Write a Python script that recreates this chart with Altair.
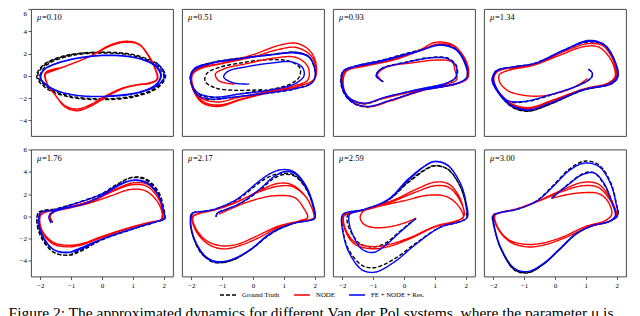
import altair as alt
import pandas as pd

MU_VALUES = ["0.10", "0.51", "0.93", "1.34", "1.76", "2.17", "2.59", "3.00"]
SERIES = ["Ground Truth", "NODE", "FE + NODE + Res."]
X_TICKS = [-2, -1, 0, 1, 2]
Y_TICKS = [-4, -2, 0, 2, 4, 6]
CAPTION = "Figure 2: The approximated dynamics for different Van der Pol systems, where the parameter \u03bc is"

# ---- panel 1 : mu = 0.10 ----
P1_TRUTH = [(-2.02, 0.0), (-1.78, 1.0), (-1.05, 1.78), (0.0, 2.05), (1.0, 1.82), (1.72, 1.05), (2.0, 0.0),
            (1.75, -1.05), (1.02, -1.8), (0.0, -2.06), (-1.02, -1.82), (-1.76, -1.05), (-2.08, 0.02),
            (-1.82, 1.05), (-1.08, 1.85), (0.05, 2.12), (1.05, 1.88), (1.78, 1.08), (2.06, 0.0),
            (1.8, -1.08), (1.05, -1.88), (-0.05, -2.14), (-1.06, -1.9), (-1.82, -1.1), (-2.12, 0.0),
            (-1.86, 1.06), (-1.1, 1.88), (0.05, 2.15)]
P1_NODE = [(-1.84, 0.21), (-1.24, 0.8), (-0.38, 1.77), (0.27, 2.77), (0.76, 3.1), (1.19, 2.86), (1.51, 1.83),
           (1.73, 0.65), (1.8, -0.3), (1.55, -0.68), (1.2, -0.8), (0.7, -1.12), (0.16, -1.86), (-0.38, -2.74),
           (-0.81, -3.13), (-1.19, -2.8), (-1.51, -1.75), (-1.78, -0.7), (-1.84, 0.25), (-1.2, 0.85),
           (-0.35, 1.8), (0.3, 2.72), (0.78, 3.02), (1.2, 2.8), (1.5, 1.8), (1.72, 0.6), (1.78, -0.3),
           (1.52, -0.65), (1.18, -0.78), (0.68, -1.08), (0.12, -1.8), (-0.4, -2.62), (-0.82, -2.98),
           (-1.2, -2.68), (-1.52, -1.7), (-1.78, -0.66), (-1.82, 0.2), (-1.22, 0.82), (-0.4, 1.72)]
P1_FE = [(1.75, 1.2), (1.98, 0.5), (2.0, -0.3), (1.72, -0.98), (1.05, -1.6), (0.05, -1.86), (-0.95, -1.7),
         (-1.68, -1.08), (-2.0, -0.2), (-1.9, 0.52), (-1.4, 1.2), (-0.5, 1.72), (0.4, 1.85), (1.22, 1.55),
         (1.75, 0.9), (1.92, 0.05), (1.75, -0.82), (1.1, -1.55), (0.1, -1.84), (-0.92, -1.7), (-1.66, -1.06),
         (-1.98, -0.2), (-1.88, 0.52), (-1.38, 1.18), (-0.48, 1.7), (0.42, 1.82), (1.22, 1.52), (1.73, 0.86),
         (1.9, 0.02), (1.73, -0.82), (1.08, -1.53), (0.1, -1.82)]

# ---- panel 2 : mu = 0.51 ----
P2_TRUTH = [(0.3, -1.25), (-0.5, -1.3), (-1.2, -1.1), (-1.55, -0.5), (-1.5, 0.2), (-1.1, 0.75), (-0.3, 1.2),
            (0.5, 1.45), (1.2, 1.3), (1.52, 0.7), (1.5, -0.1), (1.2, -0.75), (0.5, -1.25), (-0.4, -1.6),
            (-1.2, -1.95), (-1.72, -1.7), (-1.97, -0.8), (-2.0, 0.1), (-1.85, 0.68), (-1.3, 1.18), (-0.4, 1.58),
            (0.6, 1.9), (1.4, 2.1), (1.8, 1.75), (1.97, 0.9), (2.02, 0.0), (1.88, -0.66), (1.32, -1.2),
            (0.4, -1.6), (-0.6, -1.92), (-1.4, -2.12), (-1.8, -1.76), (-1.98, -0.9), (-2.03, 0.0), (-1.88, 0.66),
            (-1.32, 1.2), (-0.4, 1.6), (0.6, 1.92), (1.4, 2.12), (1.8, 1.76), (1.98, 0.9), (2.03, 0.0),
            (1.88, -0.66)]
P2_NODE = [(-0.6, -0.75), (-1.1, -0.45), (-1.22, 0.15), (-0.95, 0.62), (-0.2, 1.1), (0.7, 1.6), (1.4, 1.65),
           (1.78, 0.8), (1.78, -0.35), (1.35, -0.88), (0.4, -1.45), (-0.5, -1.95), (-1.15, -2.35), (-1.7, -1.95),
           (-1.95, -0.85), (-1.96, 0.1), (-1.72, 0.62), (-1.0, 1.1), (0.0, 1.7), (0.8, 2.35), (1.4, 2.55),
           (1.88, 1.8), (2.04, 0.6), (1.96, -0.35), (1.5, -0.9), (0.5, -1.5), (-0.4, -2.1), (-1.1, -2.62),
           (-1.62, -2.3), (-1.96, -1.0), (-2.0, 0.0), (-1.8, 0.65), (-1.0, 1.15), (0.0, 1.9), (0.9, 2.78),
           (1.45, 2.9), (1.9, 2.05), (2.06, 0.6), (1.97, -0.35), (1.5, -0.92), (0.5, -1.52), (-0.4, -2.15),
           (-1.12, -2.75), (-1.65, -2.4), (-1.97, -1.05), (-2.0, 0.0)]
P2_FE = [(-0.12, -0.74), (-0.65, -0.62), (-0.95, -0.1), (-0.8, 0.42), (-0.2, 0.82), (0.6, 1.15), (1.25, 1.25),
         (1.6, 0.75), (1.65, 0.0), (1.35, -0.72), (0.6, -1.25), (-0.4, -1.62), (-1.3, -1.9), (-1.85, -1.4),
         (-2.02, -0.3), (-1.92, 0.5), (-1.4, 1.08), (-0.5, 1.5), (0.5, 1.85), (1.35, 2.05), (1.8, 1.7),
         (1.98, 0.85), (2.02, -0.05), (1.88, -0.7), (1.35, -1.15), (0.45, -1.55), (-0.55, -1.88), (-1.38, -2.08),
         (-1.8, -1.72), (-1.98, -0.85), (-2.02, 0.05), (-1.88, 0.7), (-1.35, 1.15), (-0.45, 1.55), (0.55, 1.88),
         (1.38, 2.08), (1.8, 1.72), (1.98, 0.85), (2.02, -0.05)]

# ---- panel 3 : mu = 0.93 ----
P3_TRUTH = [(-0.67, -0.53), (-0.9, 0.0), (-0.76, 0.6), (0.1, 1.25), (0.9, 1.66), (1.42, 1.58), (1.7, 0.9),
            (1.7, -0.1), (1.44, -0.6), (0.4, -1.28), (-0.6, -1.95), (-1.3, -2.5), (-1.82, -1.92), (-2.03, -0.5),
            (-1.96, 0.45), (-1.6, 0.86), (-0.7, 1.42), (0.4, 2.25), (1.2, 2.8), (1.72, 2.32), (2.01, 0.9),
            (2.05, -0.1), (1.8, -0.62), (0.7, -1.22), (-0.4, -2.18), (-1.22, -2.8), (-1.76, -2.22), (-2.03, -0.9),
            (-1.99, 0.35), (-1.76, 0.7), (-0.8, 1.27), (0.4, 2.18), (1.22, 2.82), (1.73, 2.32), (2.03, 0.9),
            (2.05, -0.1)]
P3_NODE = [(-0.75, -0.35), (-0.86, 0.1), (-0.6, 0.75), (0.3, 1.18), (1.1, 1.42), (1.55, 1.25), (1.65, 0.5),
           (1.7, -0.35), (1.3, -0.8), (0.3, -1.4), (-0.7, -2.05), (-1.35, -2.5), (-1.85, -1.8), (-1.97, -0.4),
           (-1.85, 0.45), (-1.3, 0.85), (-0.3, 1.45), (0.6, 2.35), (1.1, 2.85), (1.65, 2.6), (2.02, 1.1),
           (2.05, -0.2), (1.7, -0.7), (0.6, -1.3), (-0.4, -2.2), (-1.15, -2.78), (-1.7, -2.3), (-1.98, -0.9),
           (-1.95, 0.3), (-1.55, 0.75), (-0.5, 1.35), (0.5, 2.3), (1.0, 3.0), (1.6, 2.75), (2.04, 1.15),
           (2.06, -0.2), (1.7, -0.72), (0.6, -1.32), (-0.4, -2.25)]
P3_FE = [(-0.67, -0.53), (-0.9, 0.0), (-0.75, 0.6), (0.1, 1.22), (0.9, 1.62), (1.4, 1.55), (1.68, 0.9),
         (1.68, -0.1), (1.42, -0.6), (0.4, -1.25), (-0.6, -1.9), (-1.3, -2.45), (-1.8, -1.9), (-2.02, -0.5),
         (-1.95, 0.45), (-1.6, 0.85), (-0.7, 1.4), (0.4, 2.2), (1.2, 2.75), (1.7, 2.3), (2.0, 0.9), (2.04, -0.1),
         (1.78, -0.6), (0.7, -1.2), (-0.4, -2.15), (-1.22, -2.75), (-1.75, -2.2), (-2.02, -0.9), (-1.98, 0.35),
         (-1.75, 0.7), (-0.8, 1.25), (0.4, 2.15), (1.22, 2.78), (1.72, 2.3), (2.02, 0.9), (2.04, -0.1),
         (1.78, -0.62), (0.7, -1.22)]

# ---- panel 4 : mu = 1.34 ----
P4_TRUTH = [(1.08, 0.59), (1.2, 0.3), (1.2, -0.05), (1.08, -0.4), (0.68, -0.95), (-0.16, -1.75), (-1.0, -2.35),
            (-1.57, -2.25), (-1.9, -1.2), (-2.0, -0.2), (-1.88, 0.45), (-1.2, 0.85), (-0.6, 1.15), (0.3, 2.3),
            (1.0, 3.02), (1.55, 2.82), (1.92, 1.4), (2.02, 0.0), (1.82, -0.65), (0.9, -1.28), (-0.12, -2.5),
            (-0.85, -3.15), (-1.4, -2.75), (-1.85, -1.45), (-2.03, -0.3), (-1.9, 0.45), (-1.3, 0.82), (-0.68, 1.1),
            (0.35, 2.38), (1.1, 3.15), (1.62, 2.72), (1.95, 1.25), (2.04, -0.05), (1.85, -0.68), (0.9, -1.3),
            (-0.16, -2.55), (-0.9, -3.18), (-1.42, -2.75), (-1.85, -1.45), (-2.04, -0.35)]
P4_NODE = [(1.05, -0.24), (0.7, -0.9), (0.2, -1.45), (-0.4, -1.8), (-1.0, -1.75), (-1.55, -1.3), (-1.8, -0.5),
           (-1.8, 0.1), (-1.5, 0.5), (-0.7, 0.95), (0.2, 1.9), (0.9, 2.6), (1.4, 2.6), (1.8, 1.5), (1.95, 0.0),
           (1.75, -0.6), (0.9, -1.2), (-0.1, -2.2), (-0.85, -2.85), (-1.4, -2.5), (-1.85, -1.3), (-1.98, -0.2),
           (-1.85, 0.4), (-1.2, 0.8), (-0.6, 1.1), (0.3, 2.2), (1.05, 2.88), (1.55, 2.7), (1.9, 1.3),
           (1.98, -0.05), (1.8, -0.62), (0.9, -1.22), (-0.12, -2.3), (-0.85, -2.95), (-1.4, -2.6),
           (-1.85, -1.35), (-2.0, -0.25)]
P4_FE = [(1.08, 0.59), (1.2, 0.3), (1.2, -0.05), (1.08, -0.4), (0.68, -0.95), (-0.16, -1.7), (-1.0, -2.3),
         (-1.55, -2.2), (-1.88, -1.2), (-2.0, -0.2), (-1.88, 0.45), (-1.2, 0.85), (-0.6, 1.15), (0.3, 2.3),
         (1.0, 3.05), (1.55, 2.85), (1.92, 1.4), (2.02, 0.0), (1.82, -0.65), (0.9, -1.25), (-0.1, -2.4),
         (-0.85, -3.05), (-1.4, -2.65), (-1.84, -1.45), (-2.03, -0.3), (-1.9, 0.45), (-1.3, 0.82), (-0.68, 1.1),
         (0.35, 2.4), (1.1, 3.18), (1.62, 2.75), (1.95, 1.25), (2.04, -0.05), (1.85, -0.68), (0.9, -1.27),
         (-0.16, -2.45), (-0.9, -3.08), (-1.42, -2.65), (-1.85, -1.45), (-2.04, -0.35), (-1.92, 0.45)]

# ---- panel 5 : mu = 1.76 ----
P5_TRUTH = [(-1.6, -0.55), (-1.7, -0.1), (-1.65, 0.35), (-1.3, 0.7), (-0.6, 1.15), (0.0, 1.9), (0.5, 2.85),
            (0.95, 3.45), (1.4, 3.3), (1.8, 2.2), (2.0, 0.7), (2.02, -0.2), (1.8, -0.47), (1.05, -1.1),
            (0.0, -2.1), (-0.6, -3.0), (-1.05, -3.48), (-1.55, -3.25), (-1.92, -2.0), (-2.1, -0.6), (-2.06, 0.3),
            (-1.6, 0.6), (-1.14, 0.94), (-0.05, 1.98), (0.5, 2.9), (1.0, 3.52), (1.45, 3.32), (1.84, 2.15),
            (2.02, 0.4), (2.03, -0.24), (1.78, -0.47), (1.03, -1.12), (-0.05, -2.15), (-0.81, -3.19),
            (-1.14, -3.5), (-1.57, -3.22), (-1.95, -2.0), (-2.11, -0.55), (-2.05, 0.35), (-1.6, 0.62)]
P5_NODE = [(-1.6, -0.5), (-1.68, 0.0), (-1.55, 0.4), (-1.1, 0.72), (-0.4, 1.2), (0.3, 1.85), (0.9, 2.4),
           (1.4, 2.3), (1.8, 1.3), (1.95, 0.2), (1.9, -0.3), (1.6, -0.5), (0.9, -1.0), (0.0, -1.8), (-0.6, -2.4),
           (-1.1, -2.6), (-1.6, -2.3), (-1.95, -1.2), (-2.0, 0.0), (-1.85, 0.35), (-1.1, 0.8), (-0.3, 1.4),
           (0.4, 2.3), (0.95, 2.82), (1.45, 2.7), (1.85, 1.5), (1.97, 0.2), (1.92, -0.32), (1.6, -0.52),
           (0.9, -1.05), (-0.05, -1.95), (-0.65, -2.55), (-1.1, -2.74), (-1.6, -2.45), (-1.96, -1.3), (-2.02, 0.0),
           (-1.88, 0.35), (-1.1, 0.82), (-0.25, 1.5), (0.45, 2.45), (1.0, 3.0), (1.5, 2.85), (1.88, 1.6),
           (1.98, 0.2)]
P5_FE = [(-1.65, -0.6), (-1.72, -0.1), (-1.65, 0.3), (-1.3, 0.65), (-0.6, 1.1), (0.0, 1.85), (0.5, 2.7),
         (0.95, 3.2), (1.4, 3.05), (1.8, 2.0), (1.98, 0.6), (2.0, -0.2), (1.78, -0.45), (1.05, -1.05), (0.0, -2.05),
         (-0.6, -2.85), (-1.05, -3.22), (-1.55, -3.0), (-1.9, -1.85), (-2.05, -0.55), (-2.0, 0.3), (-1.6, 0.55),
         (-1.14, 0.9), (-0.05, 1.95), (0.5, 2.78), (1.0, 3.25), (1.45, 3.05), (1.82, 1.95), (2.0, 0.4),
         (2.02, -0.22), (1.78, -0.45), (1.03, -1.08), (-0.05, -2.1), (-0.8, -2.95), (-1.12, -3.26),
         (-1.55, -3.02), (-1.92, -1.85), (-2.06, -0.5), (-2.0, 0.32)]

# ---- panel 6 : mu = 2.17 ----
P6_TRUTH = [(-1.2, -0.05), (-1.15, 0.3), (-0.85, 0.62), (-0.4, 1.15), (0.2, 2.3), (0.65, 3.35), (1.0, 3.75),
            (1.35, 3.6), (1.72, 2.45), (1.95, 0.85), (2.0, -0.15), (1.8, -0.38), (1.35, -0.6), (0.65, -1.45),
            (-0.1, -3.05), (-0.7, -3.98), (-1.2, -4.12), (-1.62, -3.5), (-1.92, -2.0), (-2.03, -0.5),
            (-1.98, 0.25), (-1.6, 0.45), (-1.27, 0.62), (-0.53, 1.45), (0.2, 3.0), (0.6, 3.65), (0.9, 3.85),
            (1.35, 3.7), (1.75, 2.4), (1.98, 0.6), (2.0, -0.18), (1.78, -0.38), (1.35, -0.6), (0.62, -1.45),
            (-0.12, -3.08), (-0.74, -4.0), (-1.25, -4.15), (-1.6, -3.52), (-1.92, -2.0), (-2.03, -0.53),
            (-1.97, 0.27)]
P6_NODE = [(-1.11, 0.2), (-0.7, 0.7), (-0.22, 1.24), (0.62, 1.83), (1.35, 1.68), (1.66, 0.65), (1.77, -0.1),
           (1.5, -0.4), (0.8, -0.9), (0.1, -1.8), (-0.5, -2.5), (-1.0, -2.65), (-1.5, -2.2), (-1.85, -1.1),
           (-1.95, -0.1), (-1.8, 0.2), (-1.2, 0.6), (-0.5, 1.3), (0.2, 2.3), (0.8, 2.95), (1.25, 2.85),
           (1.7, 1.8), (1.95, 0.4), (1.97, -0.15), (1.7, -0.38), (0.9, -0.9), (0.2, -1.9), (-0.4, -2.6),
           (-0.95, -2.92), (-1.45, -2.5), (-1.85, -1.3), (-1.97, -0.1), (-1.82, 0.22), (-1.2, 0.62), (-0.5, 1.35),
           (0.2, 2.2), (0.85, 2.72), (1.3, 2.65), (1.75, 1.6), (1.97, 0.3)]
P6_FE = [(-1.2, -0.05), (-1.15, 0.3), (-0.85, 0.65), (-0.4, 1.2), (0.2, 2.4), (0.65, 3.5), (1.0, 4.0),
         (1.35, 3.85), (1.72, 2.6), (1.95, 0.9), (2.0, -0.15), (1.8, -0.38), (1.35, -0.6), (0.65, -1.4),
         (-0.1, -3.0), (-0.7, -3.9), (-1.2, -4.05), (-1.6, -3.45), (-1.9, -2.0), (-2.02, -0.5), (-1.98, 0.25),
         (-1.6, 0.45), (-1.27, 0.62), (-0.53, 1.53), (0.2, 3.16), (0.6, 3.9), (0.93, 4.19), (1.3, 4.04),
         (1.66, 3.0), (1.93, 1.24), (2.0, -0.15), (1.78, -0.38), (1.35, -0.6), (0.62, -1.42), (-0.12, -3.04),
         (-0.74, -3.92), (-1.25, -4.08), (-1.58, -3.48), (-1.9, -2.0), (-2.02, -0.53), (-1.97, 0.27)]

# ---- panel 7 : mu = 2.59 ----
P7_TRUTH = [(0.39, -0.18), (0.15, -0.7), (-0.2, -1.5), (-0.6, -2.4), (-1.0, -2.75), (-1.4, -2.5), (-1.7, -1.5),
            (-1.85, -0.3), (-1.8, 0.2), (-1.3, 0.6), (-0.51, 1.45), (0.12, 3.0), (0.65, 4.1), (0.97, 4.52),
            (1.4, 4.25), (1.8, 2.8), (2.0, 1.1), (2.04, -0.09), (1.82, -0.47), (1.18, -0.97), (0.34, -2.5),
            (-0.3, -3.8), (-0.94, -4.6), (-1.36, -4.4), (-1.79, -3.0), (-1.97, -1.4), (-2.0, -0.09), (-1.93, 0.25),
            (-1.26, 0.62), (-0.51, 1.45), (0.12, 3.05), (0.65, 4.15), (0.97, 4.55), (1.4, 4.28), (1.8, 2.8),
            (2.0, 1.1), (2.04, -0.09)]
P7_NODE = [(0.39, -0.18), (0.0, -0.6), (-0.5, -0.95), (-1.0, -1.0), (-1.3, -0.7), (-1.42, -0.1), (-1.3, 0.5),
           (-0.8, 0.9), (0.0, 1.4), (0.8, 1.9), (1.4, 1.75), (1.8, 0.8), (1.92, -0.1), (1.7, -0.4), (1.0, -0.9),
           (0.2, -1.9), (-0.6, -2.6), (-1.1, -2.7), (-1.6, -2.3), (-1.9, -1.1), (-1.95, 0.0), (-1.8, 0.25),
           (-1.2, 0.6), (-0.4, 1.3), (0.4, 2.2), (1.0, 2.75), (1.45, 2.6), (1.8, 1.5), (1.95, 0.1), (1.75, -0.4),
           (1.0, -0.95), (0.2, -2.0), (-0.55, -2.75), (-1.1, -2.9), (-1.62, -2.45), (-1.92, -1.15), (-1.97, 0.0),
           (-1.82, 0.28), (-1.2, 0.65), (-0.35, 1.45), (0.45, 2.5), (1.0, 3.07), (1.45, 2.9), (1.82, 1.6),
           (1.97, 0.1)]
P7_FE = [(0.39, -0.18), (0.15, -0.75), (-0.2, -1.6), (-0.6, -2.6), (-0.99, -3.24), (-1.36, -2.95), (-1.65, -1.7),
         (-1.79, -0.3), (-1.75, 0.2), (-1.3, 0.6), (-0.51, 1.5), (0.12, 3.2), (0.65, 4.45), (0.97, 4.9),
         (1.4, 4.6), (1.82, 3.0), (2.01, 1.24), (2.05, -0.09), (1.82, -0.47), (1.18, -0.97), (0.34, -2.6),
         (-0.3, -4.07), (-0.94, -5.01), (-1.36, -4.8), (-1.79, -3.19), (-1.98, -1.42), (-2.02, -0.09),
         (-1.95, 0.25), (-1.26, 0.65), (-0.51, 1.53), (0.12, 3.3), (0.65, 4.48), (0.97, 4.93), (1.4, 4.63),
         (1.82, 3.0), (2.01, 1.24), (2.06, -0.09)]

# ---- panel 8 : mu = 3.00 ----
P8_TRUTH = [(-0.11, 1.62), (0.37, 2.75), (0.89, 3.8), (1.23, 3.95), (1.55, 3.05), (1.86, 1.24), (1.98, 0.06),
            (1.75, -0.47), (1.21, -0.85), (0.68, -1.6), (0.16, -2.95), (-0.37, -4.3), (-0.89, -5.05),
            (-1.32, -4.75), (-1.75, -2.95), (-1.96, -1.12), (-2.02, 0.06), (-1.9, 0.25), (-1.21, 0.65),
            (-0.58, 1.42), (-0.05, 2.8), (0.47, 4.25), (0.95, 4.95), (1.42, 4.62), (1.8, 3.05), (1.98, 1.24),
            (2.03, 0.06), (1.75, -0.47), (1.21, -0.85), (0.68, -1.6), (0.16, -2.95), (-0.37, -4.3),
            (-0.89, -5.08), (-1.32, -4.8), (-1.75, -2.95), (-1.96, -1.12), (-2.02, 0.06)]
P8_NODE = [(-0.11, 1.62), (0.4, 1.95), (0.89, 2.12), (1.4, 2.05), (1.7, 1.4), (1.84, 0.2), (1.65, -0.35),
           (1.0, -0.9), (0.2, -1.9), (-0.5, -2.45), (-1.0, -2.5), (-1.5, -2.1), (-1.85, -1.0), (-1.95, 0.05),
           (-1.8, 0.3), (-1.2, 0.7), (-0.5, 1.4), (0.3, 2.3), (0.9, 2.75), (1.4, 2.6), (1.8, 1.4), (2.0, 0.1),
           (1.8, -0.4), (1.1, -0.95), (0.3, -1.95), (-0.4, -2.6), (-0.9, -2.74), (-1.45, -2.3), (-1.85, -1.1),
           (-1.97, 0.05), (-1.82, 0.3), (-1.2, 0.72), (-0.5, 1.45), (0.3, 2.45), (0.9, 3.05), (1.4, 2.9),
           (1.8, 1.6), (2.02, 0.1)]
P8_FE = [(-0.11, 1.62), (0.37, 2.71), (0.89, 3.75), (1.26, 3.9), (1.58, 3.0), (1.84, 1.24), (1.95, 0.06),
         (1.74, -0.47), (1.21, -0.83), (0.68, -1.56), (0.16, -2.89), (-0.37, -4.22), (-0.89, -4.96),
         (-1.32, -4.66), (-1.74, -2.89), (-1.95, -1.12), (-2.0, 0.06), (-1.9, 0.25), (-1.21, 0.65),
         (-0.58, 1.39), (-0.05, 2.71), (0.47, 4.13), (0.95, 4.78), (1.42, 4.48), (1.79, 3.0), (1.97, 1.24),
         (2.02, 0.06), (1.74, -0.47), (1.21, -0.83), (0.68, -1.56), (0.16, -2.89), (-0.37, -4.22),
         (-0.89, -4.96), (-1.32, -4.66), (-1.74, -2.89), (-1.95, -1.12), (-2.0, 0.06)]

PANELS = [
    (P1_TRUTH, P1_NODE, P1_FE), (P2_TRUTH, P2_NODE, P2_FE),
    (P3_TRUTH, P3_NODE, P3_FE), (P4_TRUTH, P4_NODE, P4_FE),
    (P5_TRUTH, P5_NODE, P5_FE), (P6_TRUTH, P6_NODE, P6_FE),
    (P7_TRUTH, P7_NODE, P7_FE), (P8_TRUTH, P8_NODE, P8_FE),
]

FONT = "Liberation Serif"
PANEL_W, PANEL_H = 142, 127

color_scale = alt.Scale(domain=SERIES, range=["#000000", "#ff0000", "#0000ff"])
dash_scale = alt.Scale(domain=SERIES, range=[[4, 2], [1, 0], [1, 0]])
x_scale = alt.Scale(domain=[-2.3, 2.3], nice=False, zero=False)
y_scale = alt.Scale(domain=[-5.4, 6.0], nice=False, zero=False)


def panel_frame(k):
    rows = []
    for s, pts in zip(SERIES, PANELS[k]):
        for i, (x, y) in enumerate(pts):
            rows.append({"series": s, "i": i, "x": x, "y": y})
    return pd.DataFrame(rows)


def make_panel(k):
    row, col = divmod(k, 4)
    if row == 1:
        xaxis = alt.Axis(values=X_TICKS, format="d", title=None)
    else:
        xaxis = None
    if col == 0:
        if row == 0:
            yaxis = alt.Axis(values=Y_TICKS, format="d", title=None, minExtent=22, maxExtent=22,
                             labelBaseline=alt.condition("datum.value == 6", alt.value("top"),
                                                         alt.value("middle")))
        else:
            yaxis = alt.Axis(values=Y_TICKS, format="d", title=None, minExtent=22, maxExtent=22)
    else:
        yaxis = None
    data = panel_frame(k)
    layers = []
    for s in SERIES:
        layers.append(
            alt.Chart(data).transform_filter(alt.datum.series == s)
            .mark_line(strokeWidth=1.4, interpolate="catmull-rom", clip=True)
            .encode(
                x=alt.X("x:Q", scale=x_scale, axis=xaxis),
                y=alt.Y("y:Q", scale=y_scale, axis=yaxis),
                color=alt.Color("series:N", scale=color_scale, title=None),
                strokeDash=alt.StrokeDash("series:N", scale=dash_scale, title=None),
                order="i:Q",
            )
        )
    lab = pd.DataFrame({"mu": ["\u03bc"], "val": ["=" + MU_VALUES[k]]})
    mu_txt = alt.Chart(lab).mark_text(align="left", baseline="middle", font=FONT, fontSize=8.5,
                                      fontStyle="italic", color="black").encode(
        x=alt.value(6), y=alt.value(8), text="mu:N")
    val_txt = alt.Chart(lab).mark_text(align="left", baseline="middle", font=FONT, fontSize=8.5,
                                       color="black").encode(
        x=alt.value(11), y=alt.value(8), text="val:N")
    return alt.layer(*layers, mu_txt, val_txt).properties(width=PANEL_W, height=PANEL_H)


top = alt.hconcat(*[make_panel(k) for k in range(4)], spacing=7)
bottom = alt.hconcat(*[make_panel(k) for k in range(4, 8)], spacing=7)

chart = (
    alt.vconcat(top, bottom, spacing=7.5)
    .resolve_scale(x="independent", y="independent", color="shared", strokeDash="shared")
    .properties(
        padding={"left": 0, "top": 0, "right": 0, "bottom": 0},
        title=alt.TitleParams(text=CAPTION, orient="bottom", anchor="start", font=FONT, fontSize=15.5,
                              fontWeight="normal", color="black", offset=7),
    )
    .configure_view(stroke="#333333", strokeWidth=0.9)
    .configure_axis(domain=False, grid=False, tickColor="#333333", tickSize=3, tickWidth=0.8,
                    labelFont=FONT, labelFontSize=7, labelColor="black", labelPadding=1.5)
    .configure_legend(orient="none", legendX=188, legendY=277, direction="horizontal",
                      symbolType="stroke", symbolSize=256, symbolStrokeWidth=1.5,
                      labelFont=FONT, labelFontSize=6.8, labelColor="black", columnPadding=11,
                      labelOffset=5, padding=0)
)

chart.save("out.html", embed_options={"renderer": "svg", "actions": False})
